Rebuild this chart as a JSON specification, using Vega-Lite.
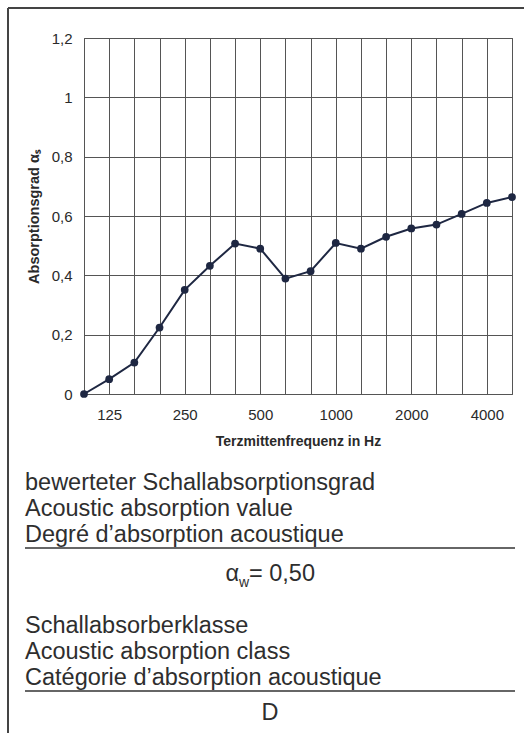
{
  "$schema": "https://vega.github.io/schema/vega-lite/v6.json",
  "background": "white",
  "padding": {"left": 7, "top": 7, "right": 0, "bottom": 0},
  "bounds": "flush",
  "spacing": 89,
  "config": {
    "font": "Liberation Sans",
    "axis": {"labelFont": "Liberation Sans", "titleFont": "Liberation Sans", "labelColor": "#2a2a2a", "titleColor": "#2a2a2a"},
    "view": {"stroke": "#555"}
  },
  "vconcat": [
    {
      "width": 428,
      "height": 356,
      "data": {"values": [
        {"f": 100, "a": 0},
        {"f": 125, "a": 0.05},
        {"f": 160, "a": 0.106},
        {"f": 200, "a": 0.224},
        {"f": 250, "a": 0.351},
        {"f": 315, "a": 0.432},
        {"f": 400, "a": 0.507},
        {"f": 500, "a": 0.49},
        {"f": 630, "a": 0.389},
        {"f": 800, "a": 0.414},
        {"f": 1000, "a": 0.509},
        {"f": 1250, "a": 0.49},
        {"f": 1600, "a": 0.53},
        {"f": 2000, "a": 0.558},
        {"f": 2500, "a": 0.571},
        {"f": 3150, "a": 0.607},
        {"f": 4000, "a": 0.644},
        {"f": 5000, "a": 0.664}
      ]},
      "encoding": {
        "x": {
          "field": "f", "type": "ordinal",
          "scale": {"type": "point", "padding": 0},
          "axis": {
            "labelAngle": 0,
            "labelOverlap": false,
            "labelExpr": "indexof([125,250,500,1000,2000,4000], datum.value) >= 0 ? datum.label : ''",
            "ticks": false, "domain": false, "grid": true,
            "gridColor": "#555", "gridOpacity": 1, "gridWidth": 1,
            "labelFontSize": 15, "labelPadding": 13,
            "title": "Terzmittenfrequenz in Hz", "titleFontSize": 14, "titleFontWeight": "bold", "titlePadding": 12
          }
        },
        "y": {
          "field": "a", "type": "quantitative",
          "scale": {"domain": [0, 1.2], "nice": false},
          "axis": {
            "values": [0, 0.2, 0.4, 0.6, 0.8, 1, 1.2],
            "labelExpr": "replace(format(datum.value, '~g'), '.', ',')",
            "ticks": false, "domain": false, "grid": true,
            "gridColor": "#555", "gridOpacity": 1, "gridWidth": 1,
            "labelFontSize": 15, "labelPadding": 12,
            "title": "Absorptionsgrad αₛ", "titleFontSize": 14.5, "titleFontWeight": "bold", "titlePadding": 10
          }
        }
      },
      "layer": [
        {"mark": {"type": "line", "color": "#1e2742", "strokeWidth": 2}},
        {"mark": {"type": "point", "filled": true, "color": "#1e2742", "size": 60, "opacity": 1}}
      ]
    },
    {
      "width": 428,
      "height": 234,
      "view": {"stroke": null},
      "data": {"values": [
        {"slot": 0, "kind": "label", "text": "bewerteter Schallabsorptionsgrad"},
        {"slot": 2, "kind": "label", "text": "Acoustic absorption value"},
        {"slot": 4, "kind": "label", "text": "Degré d’absorption acoustique"},
        {"slot": 5, "kind": "rule"},
        {"slot": 7, "kind": "alpha", "text": "α"},
        {"slot": 7, "kind": "sub", "text": "w"},
        {"slot": 7, "kind": "value", "text": "= 0,50"},
        {"slot": 11, "kind": "label", "text": "Schallabsorberklasse"},
        {"slot": 13, "kind": "label", "text": "Acoustic absorption class"},
        {"slot": 15, "kind": "label", "text": "Catégorie d’absorption acoustique"},
        {"slot": 16, "kind": "rule"},
        {"slot": 18, "kind": "center", "text": "D"},
        {"slot": 0, "kind": "frameV"},
        {"slot": 0, "kind": "frameH"}
      ]},
      "resolve": {"scale": {"y": "independent"}},
      "layer": [
        {
          "transform": [{"filter": "datum.kind !== 'frameV' && datum.kind !== 'frameH'"}],
          "encoding": {
            "y": {"field": "slot", "type": "ordinal", "scale": {"type": "point", "padding": 0, "domain": [0,1,2,3,4,5,6,7,8,9,10,11,12,13,14,15,16,17,18]}, "axis": null}
          },
          "layer": [
            {
              "transform": [{"filter": "datum.kind === 'label'"}],
              "mark": {"type": "text", "align": "left", "baseline": "middle", "fontSize": 23.5, "color": "#2e2e2e", "font": "Liberation Sans"},
              "encoding": {
                "x": {"datum": 0, "type": "quantitative", "scale": {"domain": [0.12041, 0.99388], "nice": false, "zero": false}, "axis": null},
                "text": {"field": "text"}
              }
            },
            {
              "transform": [{"filter": "datum.kind === 'rule'"}],
              "mark": {"type": "rule", "color": "#333", "strokeWidth": 1.5},
              "encoding": {
                "x": {"datum": 0, "type": "quantitative"},
                "x2": {"datum": 1}
              }
            },
            {
              "transform": [{"filter": "datum.kind === 'alpha'"}],
              "mark": {"type": "text", "align": "right", "baseline": "middle", "fontSize": 23.5, "color": "#2e2e2e", "dx": -31, "font": "Liberation Sans"},
              "encoding": {"x": {"datum": 0.5, "type": "quantitative"}, "text": {"field": "text"}}
            },
            {
              "transform": [{"filter": "datum.kind === 'sub'"}],
              "mark": {"type": "text", "align": "left", "baseline": "middle", "fontSize": 14, "color": "#2e2e2e", "dx": -31, "dy": 9, "font": "Liberation Sans"},
              "encoding": {"x": {"datum": 0.5, "type": "quantitative"}, "text": {"field": "text"}}
            },
            {
              "transform": [{"filter": "datum.kind === 'value'"}],
              "mark": {"type": "text", "align": "left", "baseline": "middle", "fontSize": 23.5, "color": "#2e2e2e", "dx": -21, "font": "Liberation Sans"},
              "encoding": {"x": {"datum": 0.5, "type": "quantitative"}, "text": {"field": "text"}}
            },
            {
              "transform": [{"filter": "datum.kind === 'center'"}],
              "mark": {"type": "text", "align": "center", "baseline": "middle", "fontSize": 23.5, "color": "#2e2e2e", "dy": -4, "font": "Liberation Sans"},
              "encoding": {"x": {"datum": 0.5, "type": "quantitative"}, "text": {"field": "text"}}
            }
          ]
        },
        {
          "transform": [{"filter": "datum.kind === 'frameV' || datum.kind === 'frameH'"}],
          "layer": [
            {
              "transform": [{"filter": "datum.kind === 'frameV'"}],
              "mark": {"type": "rule", "color": "#444", "strokeWidth": 2},
              "encoding": {
                "x": {"datum": -0.03469, "type": "quantitative"},
                "y": {"datum": 3.02991, "type": "quantitative", "scale": {"domain": [0, 1], "nice": false, "zero": false}, "axis": null},
                "y2": {"datum": -0.06838}
              }
            },
            {
              "transform": [{"filter": "datum.kind === 'frameH'"}],
              "mark": {"type": "rule", "color": "#444", "strokeWidth": 2},
              "encoding": {
                "y": {"datum": 3.02991, "type": "quantitative"},
                "x": {"datum": -0.03469, "type": "quantitative"},
                "x2": {"datum": 1.01837}
              }
            }
          ]
        }
      ]
    }
  ]
}
